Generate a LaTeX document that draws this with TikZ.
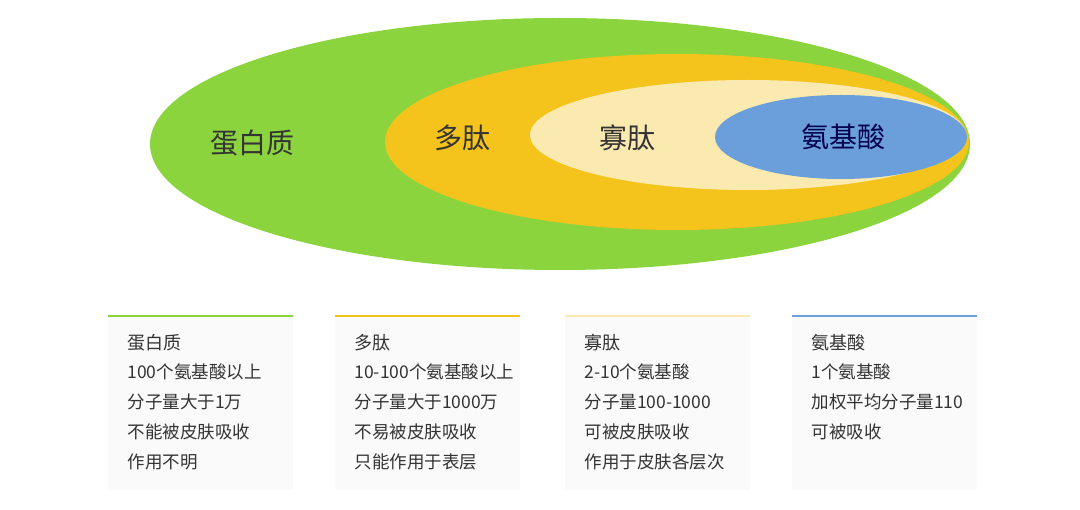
\documentclass[tikz,border=0pt]{standalone}
\usepackage{fontspec}
\setmainfont{Noto Sans CJK SC}
\usetikzlibrary{positioning}
\definecolor{leafgreen}{HTML}{8CD43E}
\definecolor{goldyellow}{HTML}{F4C41C}
\definecolor{creamy}{HTML}{FBEAB0}
\definecolor{skyblue}{HTML}{6A9FDC}
\definecolor{inkgray}{HTML}{333333}

\begin{document}
\begin{tikzpicture}[
  x=1pt, y=-1pt,
  bigtext/.style={font=\fontsize{28}{30}\selectfont, text=inkgray},
  card/.style={fill=gray!4, draw=none},
  cardline/.style={line width=2.5pt},
  cardhead/.style={anchor=west, font=\fontsize{18}{30}\selectfont, text=inkgray},
  cardtext/.style={anchor=north west, align=left, font=\fontsize{17.5}{30}\selectfont, text=inkgray}
]
\useasboundingbox (0,0) rectangle (1080,510);

% === Nested ellipses ===
\fill[leafgreen] (560,144) ellipse [x radius=410, y radius=126];
\fill[goldyellow] (677,142) ellipse [x radius=292, y radius=88];
\fill[creamy] (748,135) ellipse [x radius=218, y radius=55];
\fill[skyblue] (841,137) ellipse [x radius=126, y radius=42];

% === Ellipse labels ===
\node[bigtext] (prot) at (252,143) {蛋白质};
\node[bigtext] (poly) at (462,138) {多肽};
\node[bigtext] (oligo) at (627,138) {寡肽};
\node[bigtext, text=blue!30!black] (amino) at (843,137) {氨基酸};

% === Cards ===
\foreach \x/\c/\h/\t in {
  108/leafgreen/蛋白质/{100个氨基酸以上\\分子量大于1万\\不能被皮肤吸收\\作用不明},
  335/goldyellow/多肽/{10-100个氨基酸以上\\分子量大于1000万\\不易被皮肤吸收\\只能作用于表层},
  565/creamy/寡肽/{2-10个氨基酸\\分子量100-1000\\可被皮肤吸收\\作用于皮肤各层次},
  792/skyblue/氨基酸/{1个氨基酸\\加权平均分子量110\\可被吸收}} {
  \fill[card] (\x,316) rectangle ++(185,174);
  \draw[cardline, \c] (\x,316) -- ++(185,0);
  \node[cardhead] at (\x+16,343) {\h};
  \node[cardtext] at (\x+16,360) {\t};
}

\end{tikzpicture}
\end{document}
